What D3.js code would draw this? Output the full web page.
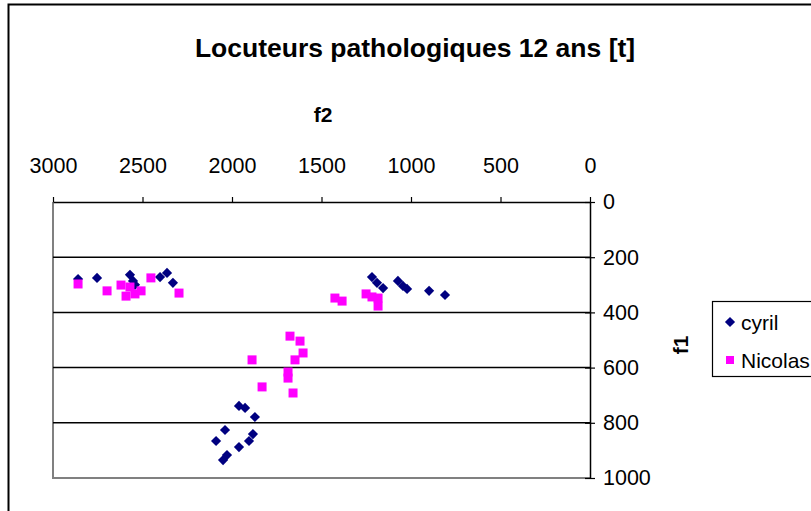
<!DOCTYPE html>
<html>
<head>
<meta charset="utf-8">
<script src="https://cdn.jsdelivr.net/npm/d3@7"></script>
<style>
  html, body { margin: 0; padding: 0; background: #fff; }
  svg { display: block; font-family: "Liberation Sans", Arial, sans-serif; }
</style>
</head>
<body>
<svg id="chart" width="811" height="511"></svg>
<script>
// Formant measurements (f2, f1) in Hz for each speaker
const cyrilF2 = [2860, 2754, 2570, 2553, 2542, 2402, 2363, 2330,
                 1218, 1190, 1156, 1073, 1045, 1022, 899, 810,
                 1961, 1927, 1872, 2039, 1883, 2089, 1905, 1961, 2028, 2050];
const cyrilF1 = [279, 275, 264, 286, 300, 272, 257, 293,
                 272, 293, 312, 286, 304, 315, 322, 337,
                 739, 746, 779, 826, 841, 866, 866, 888, 917, 935];
const nicolasF2 = [2860, 2698, 2620, 2592, 2570, 2542, 2508, 2453, 2296,
                   1425, 1385, 1251, 1218, 1184, 1184,
                   1676, 1620, 1603, 1648, 1888, 1687, 1687, 1832, 1659];
const nicolasF1 = [297, 322, 301, 341, 308, 333, 322, 275, 330,
                   348, 359, 333, 344, 348, 377,
                   486, 504, 547, 572, 572, 616, 638, 670, 692];

const xTicks = [3000, 2500, 2000, 1500, 1000, 500, 0];
const yTicks = [0, 200, 400, 600, 800, 1000];
const seriesNames = ["cyril", "Nicolas"];
const seriesColors = ["#000080", "#FF00FF"];

const svg = d3.select("#chart");
const fmt = d3.format("d");

// outer chart frame
svg.append("rect")
  .attr("x", 8.5).attr("y", 4.5)
  .attr("width", 820).attr("height", 520)
  .attr("fill", "#fff").attr("stroke", "#000").attr("stroke-width", 2);

const plot = { left: 53, right: 590, top: 202, bottom: 478 };

const x = d3.scaleLinear().domain([3000, 0]).range([plot.left, plot.right]);
const y = d3.scaleLinear().domain([0, 1000]).range([plot.top, plot.bottom]);

// plot area border (left and bottom, grey)
svg.append("path")
  .attr("d", `M${plot.left},${plot.top} V${plot.bottom} H${plot.right}`)
  .attr("fill", "none").attr("stroke", "#808080").attr("stroke-width", 2);

// horizontal gridlines
svg.append("g").selectAll("line")
  .data(yTicks.filter(v => v > 0 && v < 1000))
  .join("line")
  .attr("x1", plot.left).attr("x2", plot.right)
  .attr("y1", d => y(d)).attr("y2", d => y(d))
  .attr("stroke", "#000").attr("stroke-width", 1.5);

// top f2 axis
const xAxis = svg.append("g")
  .attr("transform", `translate(0,${plot.top})`)
  .call(d3.axisTop(x).tickValues(xTicks).tickFormat(fmt)
    .tickSizeInner(5).tickSizeOuter(0).tickPadding(24));
xAxis.select(".domain").attr("stroke", "#000").attr("stroke-width", 1.5);
xAxis.selectAll(".tick line").attr("stroke", "#000").attr("stroke-width", 1.2);
xAxis.selectAll(".tick text")
  .attr("font-size", 21.5).attr("fill", "#000")
  .attr("font-family", "Liberation Sans, Arial, sans-serif");

// right f1 axis (ticks cross the axis)
const yAxis = svg.append("g")
  .attr("transform", `translate(${plot.right},0)`)
  .call(d3.axisRight(y).tickValues(yTicks).tickFormat(fmt)
    .tickSizeInner(5).tickSizeOuter(0).tickPadding(8));
yAxis.select(".domain").attr("stroke", "#000").attr("stroke-width", 1.5);
yAxis.selectAll(".tick line").attr("x1", -5).attr("x2", 5).attr("stroke", "#000").attr("stroke-width", 1.2);
yAxis.selectAll(".tick text")
  .attr("font-size", 21.5).attr("fill", "#000")
  .attr("font-family", "Liberation Sans, Arial, sans-serif");

// titles
svg.append("text")
  .attr("x", 415).attr("y", 57)
  .attr("text-anchor", "middle")
  .attr("font-size", 26.5).attr("font-weight", "bold")
  .text("Locuteurs pathologiques 12 ans [t]");

svg.append("text")
  .attr("x", 323).attr("y", 122)
  .attr("text-anchor", "middle")
  .attr("font-size", 21).attr("font-weight", "bold")
  .text("f2");

svg.append("text")
  .attr("transform", "translate(688,345) rotate(-90)")
  .attr("text-anchor", "middle")
  .attr("font-size", 21).attr("font-weight", "bold")
  .text("f1");

// markers
const diamond = d3.symbol().type(d3.symbolSquare).size(52);
const square = d3.symbol().type(d3.symbolSquare).size(81);

const cyril = cyrilF2.map((f2, i) => ({ f2, f1: cyrilF1[i] }));
const nicolas = nicolasF2.map((f2, i) => ({ f2, f1: nicolasF1[i] }));

svg.append("g").selectAll("path")
  .data(cyril)
  .join("path")
  .attr("d", diamond)
  .attr("transform", d => `translate(${x(d.f2)},${y(d.f1)}) rotate(45)`)
  .attr("fill", seriesColors[0]);

svg.append("g").selectAll("path")
  .data(nicolas)
  .join("path")
  .attr("d", square)
  .attr("transform", d => `translate(${x(d.f2)},${y(d.f1)})`)
  .attr("fill", seriesColors[1]);

// legend
const legend = svg.append("g");
legend.append("rect")
  .attr("x", 712.5).attr("y", 301.5)
  .attr("width", 120).attr("height", 75)
  .attr("fill", "#fff").attr("stroke", "#000").attr("stroke-width", 1.2);

const legendRows = legend.selectAll("g.row")
  .data(seriesNames)
  .join("g")
  .attr("class", "row")
  .attr("transform", (d, i) => `translate(730,${322 + i * 38})`);

legendRows.append("path")
  .attr("d", (d, i) => d3.symbol().type(d3.symbolSquare).size(i === 0 ? 52 : 64)())
  .attr("transform", (d, i) => i === 0 ? "rotate(45)" : "")
  .attr("fill", (d, i) => seriesColors[i]);

legendRows.append("text")
  .attr("x", 11).attr("y", 7.5)
  .attr("font-size", 21)
  .text(d => d);
</script>
</body>
</html>
